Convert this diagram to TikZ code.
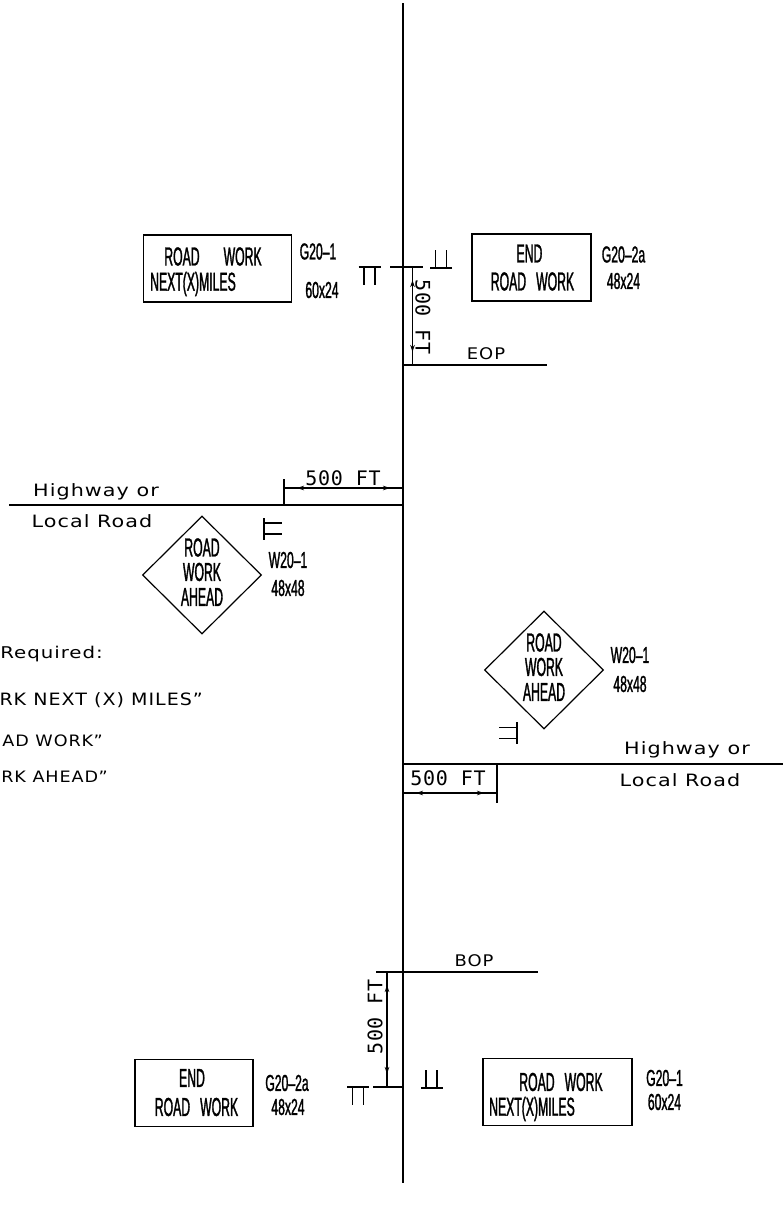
\documentclass[tikz,border=0pt]{standalone}
\usepackage{fontspec}
\usetikzlibrary{shapes.geometric,arrows.meta,decorations.markings}
\newfontfamily\signfont[FakeStretch=0.47,FakeBold=1.2]{Liberation Sans}
\newfontfamily\numfont[FakeStretch=0.53,FakeBold=1.2]{Liberation Sans}
\newfontfamily\notefont[FakeStretch=1.22,LetterSpace=6]{DejaVu Sans}
\newfontfamily\capsfont[FakeStretch=1.12,LetterSpace=6]{DejaVu Sans}
\newfontfamily\dimfont[LetterSpace=4]{DejaVu Sans Mono}
\tikzset{
  road/.style={line width=1.8pt},
  thin line/.style={line width=1.2pt},
  dim line/.style={thin line,postaction={decorate},decoration={markings,
    mark=at position 13pt with {\arrowreversed{Stealth[length=7pt,width=4.5pt]}},
    mark=at position -13pt with {\arrow{Stealth[length=7pt,width=4.5pt]}}}},
  signbox/.style={draw,line width=1.2pt,rectangle,minimum width=#1,minimum height=67pt,inner sep=0pt},
  signdiamond/.style={draw,line width=1.2pt,diamond,minimum width=119pt,minimum height=118pt,inner sep=0pt},
  signtext/.style={font=\signfont\fontsize{26}{26}\selectfont,inner sep=0pt},
  numtext/.style={font=\numfont\fontsize{23}{23}\selectfont,inner sep=0pt},
  notetext/.style={font=\notefont\fontsize{17}{17}\selectfont,inner sep=0pt},
  capstext/.style={font=\capsfont\fontsize{16}{16}\selectfont,inner sep=0pt},
  dimtext/.style={font=\dimfont\fontsize{20}{20}\selectfont,inner sep=0pt},
  post/.pic={\draw[thin line] (-11,0) -- (11,0) (-5.5,0) -- (-5.5,18) (5.5,0) -- (5.5,18);}
}
\begin{document}
\begin{tikzpicture}[x=1pt,y=-1pt]
    \useasboundingbox (0,0) rectangle (783,1211);

    % Mainline
    \coordinate (top) at (403,3);
    \coordinate (bottom) at (403,1183);
    \draw[road] (top) -- (bottom);

    % Signs
    \foreach \n/\x/\y/\w in {a/217.5/268.5/148, b/531.5/267.5/119, c/194/1093/118, d/557.5/1092/149} {
        \node[signbox=\w pt] (sign\n) at (\x,\y) {};
    }
    \node[signtext] at (213,256.5) {ROAD\hspace{24pt}WORK};
    \node[signtext,anchor=west] at (150,284) {NEXT(X)MILES};
    \node[signtext] at (529.5,253.5) {END};
    \node[signtext] at (532.5,281.5) {ROAD\hspace{10pt}WORK};
    \node[signtext] at (192,1078) {END};
    \node[signtext] at (196.5,1107) {ROAD\hspace{10pt}WORK};
    \node[signtext] at (561,1082) {ROAD\hspace{10pt}WORK};
    \node[signtext,anchor=west] at (489,1109) {NEXT(X)MILES};

    % Diamonds
    \foreach \n/\x/\y in {e/202/575, f/544/670} {
        \node[signdiamond] (sign\n) at (\x,\y) {};
        \node[signtext] at (\x,\y-27.5) {ROAD};
        \node[signtext] at (\x,\y-3) {WORK};
        \node[signtext] at (\x,\y+22) {AHEAD};
    }

    % Sign numbers
    \foreach \t/\x/\y in {G20–1/318/251.5, 60x24/322/290, G20–2a/623.5/254.5, 48x24/623.5/281,
        W20–1/288/560, 48x48/288/588, W20–1/630/655, 48x48/630/684,
        G20–2a/287/1083, 48x24/288/1107, G20–1/664.5/1078, 60x24/664.5/1102} {
        \node[numtext] at (\x,\y) {\t};
    }

    % Posts
    \foreach \x/\y/\r in {369.5/267/0, 441/268/180, 358/1087/0, 431.5/1088/180, 264/528.5/90, 517/733/-90} {
        \pic[rotate=\r] at (\x,\y) {post};
    }

    % Side roads
    \coordinate (eopl) at (403,365);
    \coordinate (eopr) at (547,365);
    \coordinate (bopl) at (376,972);
    \coordinate (bopr) at (538,972);
    \coordinate (hwyl) at (9,505);
    \coordinate (hwyla) at (403,505);
    \coordinate (hwyr) at (402,764);
    \coordinate (hwyrb) at (783,764);
    \draw[road] (eopl) -- (eopr);
    \draw[road] (bopl) -- (bopr);
    \draw[road] (hwyl) -- (hwyla);
    \draw[road] (hwyr) -- (hwyrb);

    % Dimensions
    \coordinate (da1) at (390,267);
    \coordinate (da2) at (423,267);
    \coordinate (da3) at (412.5,267);
    \coordinate (da4) at (412.5,365);
    \draw[thin line] (da1) -- (da2);
    \draw[dim line] (da3) -- (da4);
    \coordinate (db1) at (284,479);
    \coordinate (db2) at (284,505);
    \coordinate (db3) at (284,488);
    \coordinate (db4) at (403,488);
    \draw[thin line] (db1) -- (db2);
    \draw[dim line] (db3) -- (db4);
    \coordinate (dc1) at (497,764);
    \coordinate (dc2) at (497,803);
    \coordinate (dc3) at (403,793);
    \coordinate (dc4) at (497,793);
    \draw[thin line] (dc1) -- (dc2);
    \draw[dim line] (dc3) -- (dc4);
    \coordinate (dd1) at (373,1087);
    \coordinate (dd2) at (403,1087);
    \coordinate (dd3) at (387,972);
    \coordinate (dd4) at (387,1087);
    \draw[thin line] (dd1) -- (dd2);
    \draw[dim line] (dd3) -- (dd4);

    % Labels
    \node[dimtext,rotate=-90] at (423,317) {500 FT};
    \node[dimtext] at (343,478) {500 FT};
    \node[dimtext] at (448,778) {500 FT};
    \node[dimtext,rotate=90] at (375,1017) {500 FT};
    \node[capstext] at (486,354) {EOP};
    \node[capstext] at (474,961) {BOP};
    \node[notetext] at (96,492) {Highway or};
    \node[notetext] at (92,521) {Local Road};
    \node[notetext] at (687,750) {Highway or};
    \node[notetext] at (680,780) {Local Road};
    \node[notetext,font=\notefont\fontsize{16.2}{16.2}\selectfont,anchor=east] at (103,654) {Required:};
    \node[capstext,font=\capsfont\fontsize{17}{17}\selectfont,anchor=east] at (203,700) {RK NEXT (X) MILES”};
    \node[capstext,font=\capsfont\fontsize{15.7}{15.7}\selectfont,anchor=east] at (103,741) {AD WORK”};
    \node[capstext,font=\capsfont\fontsize{15.7}{15.7}\selectfont,anchor=east] at (108,777) {RK AHEAD”};
\end{tikzpicture}
\end{document}
